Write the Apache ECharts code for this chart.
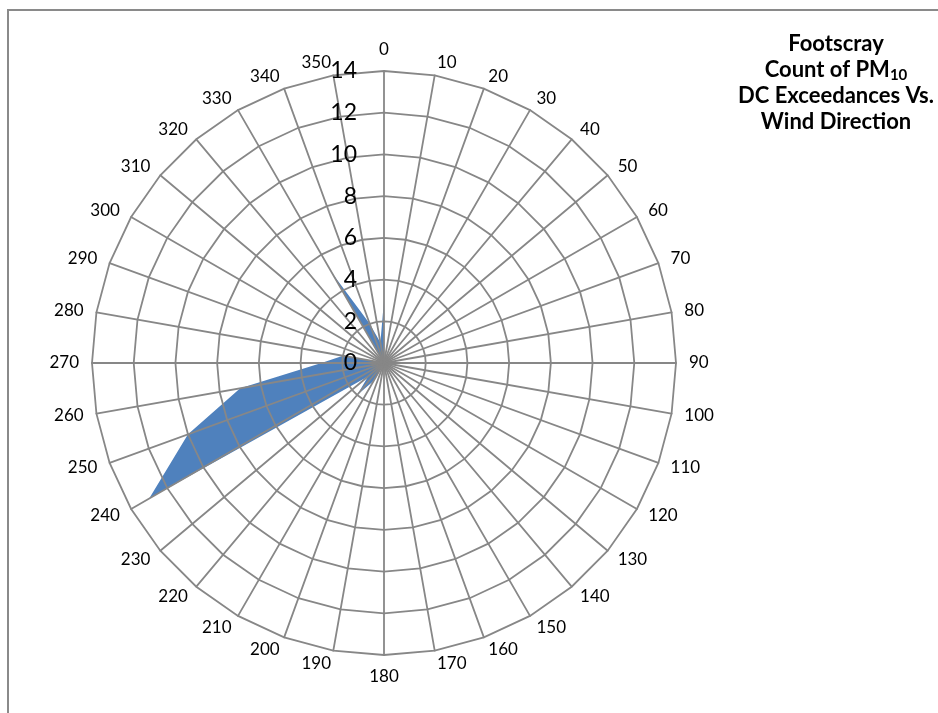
<!DOCTYPE html>
<html>
<head>
<meta charset="utf-8">
<script src="https://cdn.jsdelivr.net/npm/echarts@6/dist/echarts.min.js"></script>
<style>
  html, body { margin: 0; padding: 0; background: #fff; }
  #wrap { position: relative; width: 938px; height: 713px; overflow: hidden; }
  #frame { position: absolute; left: 7px; top: 9px; width: 960px; height: 740px;
           border-left: 2px solid #8a8a8a; border-top: 2px solid #8a8a8a; box-sizing: border-box; }
  #chart { position: absolute; left: 0; top: 0; width: 938px; height: 713px; }
</style>
</head>
<body>
<div id="wrap">
  <div id="frame"></div>
  <div id="chart"></div>
</div>
<script>
// Wind direction categories (compass degrees, clockwise from north)
const directions = ['0','10','20','30','40','50','60','70','80','90','100','110','120','130','140','150','160','170',
                    '180','190','200','210','220','230','240','250','260','270','280','290','300','310','320','330','340','350'];
// Count of PM10 DC exceedances for each direction
const counts = [3,0,0,0,0,0,0,0,0,1, 0,0,0,0,0,0,0,2,0,3, 0,1,2,1,13,10,7,3,2,0, 2,0,0,5,2,1];
// Radial scale
const radialMax = 14;
const radialSplits = 7;
const titleLines = ['Footscray', 'Count of PM', '10', 'DC Exceedances Vs.', 'Wind Direction'];

// Radar lays indicators counter-clockwise; build a clockwise (compass) order.
const order = directions.map((d, i) => (directions.length - i) % directions.length);
const indicators = order.map((idx, k) => {
  const ind = { name: directions[idx], min: 0, max: radialMax };
  if (k === 0) ind.axisLabel = { show: true };
  return ind;
});
const values = order.map(idx => counts[idx]);

const chart = echarts.init(document.getElementById('chart'), null, { renderer: 'canvas' });
chart.setOption({
  animation: false,
  backgroundColor: 'transparent',
  title: {
    text: '{t|' + titleLines[0] + '}\n{t|' + titleLines[1] + '}{s|' + titleLines[2] + '}\n{t|' + titleLines[3] + '}\n{t|' + titleLines[4] + '}',
    left: 836,
    top: 31,
    padding: 0,
    textAlign: 'center',
    textStyle: {
      rich: {
        t: { fontFamily: 'Lato', fontWeight: 'bold', fontSize: 22, lineHeight: 26, color: '#000' },
        s: { fontFamily: 'Lato', fontWeight: 'bold', fontSize: 15, lineHeight: 4, verticalAlign: 'bottom', color: '#000' }
      }
    }
  },
  radar: {
    z: 3,
    center: [384, 363],
    radius: 292,
    startAngle: 90,
    shape: 'polygon',
    splitNumber: radialSplits,
    indicator: indicators,
    axisName: { color: '#000', fontFamily: 'Lato', fontSize: 17 },
    nameGap: 13,
    axisLine: { lineStyle: { color: '#878787', width: 1.8 } },
    splitLine: { lineStyle: { color: '#878787', width: 1.8 } },
    splitArea: { show: false },
    axisTick: { show: false },
    axisLabel: { show: false, color: '#000', fontFamily: 'Lato', fontSize: 23, margin: 27 }
  },
  series: [{
    type: 'radar',
    z: 1,
    symbol: 'none',
    lineStyle: { width: 0, color: '#4F81BD' },
    itemStyle: { color: '#4F81BD' },
    areaStyle: { color: '#4F81BD', opacity: 1 },
    data: [{ value: values, name: 'Count' }]
  }]
});
</script>
</body>
</html>
